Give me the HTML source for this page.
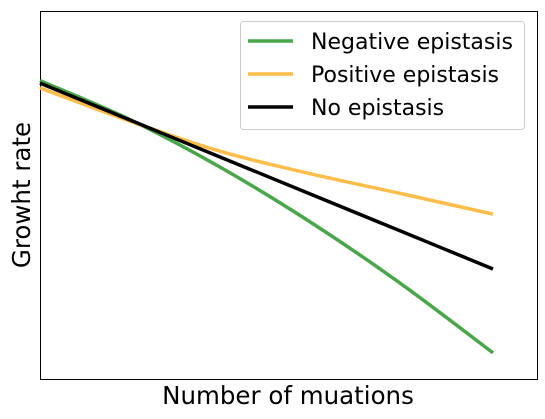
<!DOCTYPE html>
<html><head><meta charset="utf-8"><style>
body{margin:0;background:#fff;}
svg{display:block;font-family:"DejaVu Sans","Liberation Sans",sans-serif;}
</style></head><body>
<svg id="chart" width="545" height="419">
<rect x="40.5" y="11.5" width="497" height="368" fill="#fff" stroke="#000" stroke-width="1"/>
<g id="lines"></g>
<text x="288" y="404" font-size="24.5" text-anchor="middle">Number of muations</text>
<text transform="translate(30,195) rotate(-90)" font-size="24.5" text-anchor="middle">Growht rate</text>
<g>
<rect x="240.5" y="21.5" width="284" height="108" rx="3" fill="#fff" fill-opacity="0.8" stroke="#ccc"/>
<line x1="248" y1="41" x2="293" y2="41" stroke="#4aa64a" stroke-width="3.5"/>
<text x="311" y="49" font-size="22">Negative epistasis</text>
<line x1="248" y1="74" x2="293" y2="74" stroke="#fdbd4a" stroke-width="3.5"/>
<text x="311" y="82" font-size="22">Positive epistasis</text>
<line x1="248" y1="107" x2="293" y2="107" stroke="#000" stroke-width="3.5"/>
<text x="311" y="115" font-size="22">No epistasis</text>
</g>
</svg>
<script>
const mutations = [0, 1, 2, 3, 4, 5];
const negative = [0.811, 0.704, 0.574, 0.424, 0.256, 0.071];
const positive = [0.791, 0.700, 0.618, 0.557, 0.503, 0.448];
const none = [0.804, 0.703, 0.602, 0.501, 0.400, 0.299];
function sx(v){return 40 + v*90.6;}
function sy(v){return 379 - v*368;}
function path(ys){
  const p = mutations.map((x,i)=>[sx(x), sy(ys[i])]);
  let d = 'M'+p[0][0]+','+p[0][1];
  for(let i=0;i<p.length-1;i++){
    const p0=p[Math.max(0,i-1)],p1=p[i],p2=p[i+1],p3=p[Math.min(p.length-1,i+2)];
    const c1=[p1[0]+(p2[0]-p0[0])/6,p1[1]+(p2[1]-p0[1])/6];
    const c2=[p2[0]-(p3[0]-p1[0])/6,p2[1]-(p3[1]-p1[1])/6];
    d+=' C'+c1+' '+c2+' '+p2;
  }
  return d;
}
const g=document.getElementById('lines');
const series=[[negative,'#4aa64a','negative-epistasis-line'],[positive,'#fdbd4a','positive-epistasis-line'],[none,'#000','no-epistasis-line']];
series.forEach(s=>{
  const el=document.createElementNS('http://www.w3.org/2000/svg','path');
  el.setAttribute('d',path(s[0]));
  el.setAttribute('fill','none');
  el.setAttribute('stroke',s[1]);
  el.setAttribute('stroke-width','3.5');
  
  
  g.appendChild(el);
});
</script>
</body></html>
